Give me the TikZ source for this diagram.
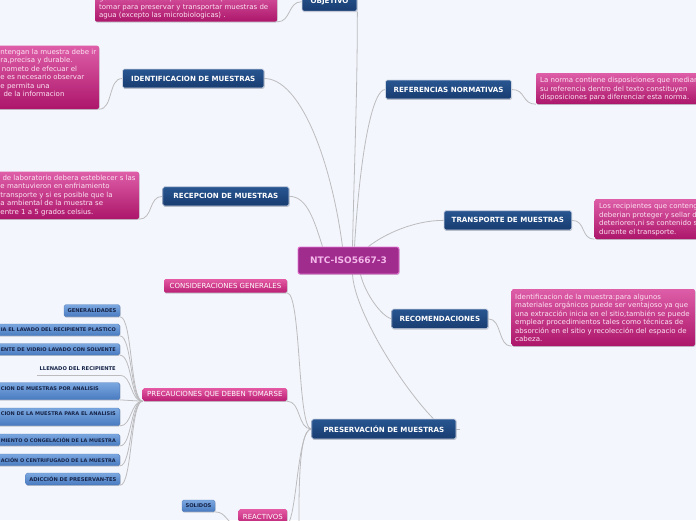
\documentclass[tikz,border=0pt]{standalone}
\usepackage{fontspec}
\usepackage{graphicx}
\setmainfont{DejaVu Sans}
\usetikzlibrary{shadows}
\definecolor{bgc}{RGB}{243,246,253}
\definecolor{navyT}{RGB}{40,86,145}
\definecolor{navyB}{RGB}{24,60,112}
\definecolor{navyBorder}{RGB}{205,212,226}
\definecolor{noteT}{RGB}{222,94,168}
\definecolor{noteB}{RGB}{172,22,106}
\definecolor{noteText}{RGB}{252,228,242}
\definecolor{catT}{RGB}{228,90,164}
\definecolor{catB}{RGB}{186,30,114}
\definecolor{cenFill}{RGB}{160,44,142}
\definecolor{cenBorder}{RGB}{228,118,214}
\definecolor{cenText}{RGB}{244,184,234}
\definecolor{itemT}{RGB}{124,168,224}
\definecolor{itemB}{RGB}{72,122,192}
\definecolor{itemBorder}{RGB}{84,124,186}
\definecolor{itemText}{RGB}{22,36,72}
\definecolor{lineGray}{RGB}{188,188,190}
\pgfdeclarelayer{bglayer}
\pgfdeclarelayer{linelayer}
\pgfsetlayers{bglayer,linelayer,main}
\newcommand{\rtext}[2]{\makebox[#1][r]{#2}}
\newcommand{\fitr}[1]{\resizebox{115pt}{!}{#1}}
\tikzset{
  softshadow/.style={drop shadow={shadow xshift=0.5pt,shadow yshift=-0.9pt,opacity=0.28,fill=black!70}},
  mainbox/.style={draw=navyBorder, line width=0.7pt, rounded corners=1.6pt, top color=navyT, bottom color=navyB,
    text=white, font=\fontsize{7.1}{8}\selectfont\bfseries, inner sep=0pt, softshadow},
  cenbox/.style={draw=cenBorder, line width=0.9pt, rounded corners=2pt, fill=cenFill,
    text=cenText, font=\fontsize{9}{10}\selectfont\bfseries, inner sep=0pt, softshadow},
  notebox/.style={draw=none, rounded corners=2pt, top color=noteT, bottom color=noteB, inner sep=0pt, softshadow},
  notetext/.style={anchor=north west, inner sep=0pt, align=left, text=noteText, font=\fontsize{7}{8.5}\selectfont},
  catbox/.style={draw=none, rounded corners=1.6pt, top color=catT, bottom color=catB, text=white,
    font=\fontsize{7}{8}\selectfont, inner sep=0pt, softshadow},
  itembox/.style={draw=itemBorder, line width=0.4pt, rounded corners=1.6pt, top color=itemT, bottom color=itemB,
    text=itemText, font=\fontsize{5.2}{6}\selectfont\bfseries, inner sep=0pt, softshadow},
  itemclip/.style={anchor=east, inner xsep=4pt},
  plainitem/.style={text=itemText, font=\fontsize{5.2}{6}\selectfont\bfseries, inner ysep=0pt},
  link/.style={draw=lineGray, line width=0.8pt}
}
\begin{document}
\begin{tikzpicture}[x=1pt,y=-1pt]
\useasboundingbox (0,0) rectangle (696,520);
\begin{pgfonlayer}{bglayer}
\fill[bgc] (0,0) rectangle (696,520);
\end{pgfonlayer}

% central topic
\node[cenbox, minimum width=101pt, minimum height=27pt] (cen) at (348.5,260.5) {NTC-ISO5667-3};

% main branches
\node[mainbox, minimum width=55pt, minimum height=19pt] (obj) at (329.5,1.7) {OBJETIVO};
\node[mainbox, minimum width=141.5pt, minimum height=19pt] (ident) at (193.25,78.5) {IDENTIFICACION DE MUESTRAS};
\node[mainbox, minimum width=126.3pt, minimum height=19.3pt] (recep) at (225.85,196.35) {RECEPCION DE MUESTRAS};
\node[mainbox, minimum width=126pt, minimum height=19pt] (refer) at (448.5,89.5) {REFERENCIAS NORMATIVAS};
\node[mainbox, minimum width=127.7pt, minimum height=19.3pt] (transp) at (507.85,220.35) {TRANSPORTE DE MUESTRAS};
\node[mainbox, minimum width=96.3pt, minimum height=19.7pt] (recom) at (439.85,318.85) {RECOMENDACIONES};
\node[mainbox, minimum width=144.3pt, minimum height=20pt] (pres) at (383.85,429) {PRESERVACIÓN DE MUESTRAS};

% notes
\node[notebox, minimum width=182pt, minimum height=32pt] (objnote) at (186,5.7) {};
\node[notetext] (objtxt) at (99,-4.6) {generales sobre las precauciones que se deben\\tomar para preservar y transportar muestras de\\agua (excepto las microbiologicas) .};

\node[notebox, minimum width=104pt, minimum height=63.3pt] (identnote) at (47,77.35) {};
\node[notetext] (identtxt) at (0.3,48.6) {ntengan la muestra debe ir\\ra,precisa y durable.\\\hspace*{1.5pt}nometo de efecuar el\\e es necesario observar\\e permita una\\\hspace*{3pt}de la informacion};

\node[notebox, minimum width=144pt, minimum height=47.3pt] (recepnote) at (67,195.35) {};
\node[notetext] (receptxt) at (0.3,174.6) {\hspace*{2pt}de laboratorio debera esteblecer s las\\e mantuvieron en enfriamiento\\transporte y si es posible que la\\a ambiental de la muestra se\\entre 1 a 5 grados celsius.};

\node[notebox, minimum width=180pt, minimum height=31pt] (refernote) at (626,88.5) {};
\node[notetext] (refertxt) at (540,77.3) {La norma contiene disposiciones que median\\su referencia dentro del texto constituyen\\disposiciones para diferenciar esta norma.};

\node[notebox, minimum width=121.3pt, minimum height=40pt] (transpnote) at (655.35,219) {};
\node[notetext] (transptxt) at (599,203.3) {Los recipientes que conteng\\deberian proteger y sellar d\\deterioren,ni se contenido s\\durante el transporte.};

\node[notebox, minimum width=183.3pt, minimum height=57pt] (recomnote) at (603.35,317.5) {};
\node[notetext] (recomtxt) at (515,293.6) {Identificacion de la muestra:para algunos\\materiales orgánicos puede ser ventajoso ya que\\una extracción inicia en el sitio,también se puede\\emplear procedimientos tales como técnicas de\\absorción en el sitio y recolección del espacio de\\cabeza.};

% preservation sub-topics
\node[catbox, minimum width=123pt, minimum height=13.7pt] (cons) at (225.5,285.85) {CONSIDERACIONES GENERALES};
\node[catbox, minimum width=144.3pt, minimum height=13pt] (prec) at (214.85,394.5) {PRECAUCIONES QUE DEBEN TOMARSE};
\node[catbox, minimum width=48.3pt, minimum height=16pt] (reac) at (262.85,517) {REACTIVOS};

% precaution items
\node[itembox, minimum width=56pt, minimum height=12pt] (gen) at (92,310.7) {GENERALIDADES};
\node[itembox, itemclip, minimum height=11.7pt] (lav1) at (120,329.85) {\fitr{IA EL LAVADO DEL RECIPIENTE PLASTICO}};
\node[itembox, itemclip, minimum height=11.3pt] (lav2) at (120,349.35) {\fitr{ENTE DE VIDRIO LAVADO CON SOLVENTE}};
\node[plainitem, anchor=east, inner xsep=4pt, minimum height=12pt] (llen) at (120,369) {\rtext{74.3pt}{LLENADO DEL RECIPIENTE}};
\node[itembox, itemclip, minimum height=17pt] (sel) at (120,391.2) {\raisebox{2.2pt}[\height][\depth]{\resizebox{98pt}{!}{CION DE MUESTRAS POR ANALISIS}\hspace*{17pt}}};
\node[itembox, itemclip, minimum height=17.7pt] (prep) at (120,416.85) {\raisebox{2.8pt}[\height][\depth]{\fitr{CION DE LA MUESTRA PARA EL ANALISIS}}};
\node[itembox, itemclip, minimum height=11.7pt] (refr) at (120,439.85) {\fitr{MIENTO O CONGELACIÓN DE LA MUESTRA}};
\node[itembox, itemclip, minimum height=11.7pt] (filt) at (120,459.85) {\fitr{ACIÓN O CENTRIFUGADO DE LA MUESTRA}};
\node[itembox, minimum width=94.3pt, minimum height=12pt] (adic) at (72.85,479) {ADICCIÓN DE PRESERVAN-TES};
\node[itembox, minimum width=33pt, minimum height=11.7pt] (sol) at (198.5,505.85) {SOLIDOS};

\coordinate (presstub) at ([xshift=4pt]pres.east);
\coordinate (presmore) at (299,545);

\begin{pgfonlayer}{linelayer}
% central to branches
\draw[link] (obj.south east) .. controls +(0,80) and +(2,-90) .. ([xshift=4pt]cen.north);
\draw[link] (ident.east) .. controls +(35,0) and +(-12,-90) .. ([xshift=-6pt]cen.north);
\draw[link] (refer.west) .. controls +(-12,0) and +(6,-100) .. ([xshift=6pt]cen.north);
\draw[link] (recep.east) .. controls +(18,0) and +(-8,-25) .. ([xshift=-26pt]cen.north);
\draw[link] (transp.west) .. controls +(-30,0) and +(15,-12) .. ([xshift=20pt]cen.north);
\draw[link] ([xshift=12pt]cen.south) .. controls +(5,20) and +(-10,-3) .. (recom.west);
\draw[link] ([xshift=4pt]cen.south) .. controls +(2,36) and +(-33,-34) .. ([xshift=-23pt]pres.north east);
% branches to notes
\draw[link] (obj.west) .. controls +(-14,0) and +(14,0) .. (objnote.south east);
\draw[link] (ident.west) .. controls +(-14,0) and +(14,0) .. (identnote.south east);
\draw[link] (recep.west) .. controls +(-14,0) and +(14,0) .. (recepnote.south east);
\draw[link] (refer.east) .. controls +(14,0) and +(-14,0) .. (refernote.south west);
\draw[link] (transp.east) .. controls +(14,0) and +(-14,0) .. (transpnote.south west);
\draw[link] (recom.east) .. controls +(14,0) and +(-14,0) .. (recomnote.south west);
% preservation
\draw[link] (pres.west) .. controls +(-14,0) and +(14,0) .. (cons.south east);
\draw[link] (pres.west) .. controls +(-14,0) and +(14,0) .. (prec.south east);
\draw[link] (pres.west) .. controls +(-14,0) and +(10,-10) .. (reac.south east);
\draw[link] (pres.west) .. controls +(-14,0) and +(0,-40) .. (presmore);
\draw[link] (pres.east) -- (presstub);
% precaution items
\foreach \it in {gen,lav1,lav2,llen,sel,prep,refr,filt,adic}{
  \draw[link] (prec.south west) .. controls +(-12,0) and +(12,0) .. (\it.south east);
}
\draw[link] (llen.south west) -- (llen.south east);
\draw[link] (reac.south west) .. controls +(-12,0) and +(12,0) .. (sol.south east);
\end{pgfonlayer}
\end{tikzpicture}
\end{document}
